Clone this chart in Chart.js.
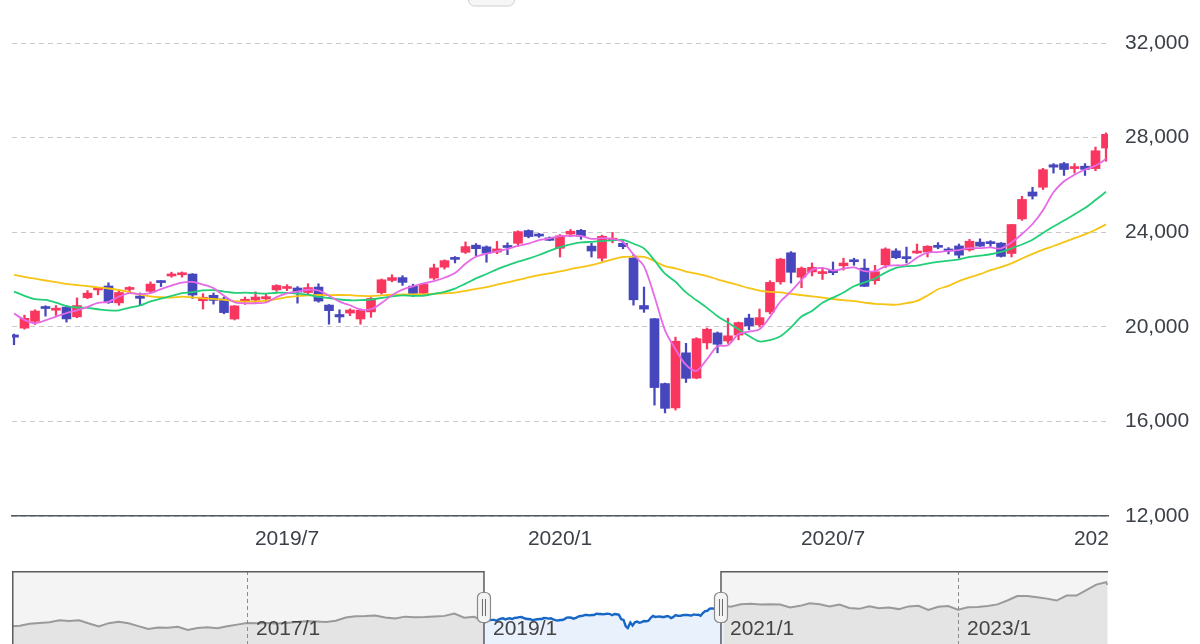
<!DOCTYPE html>
<html lang="ja">
<head>
<meta charset="utf-8">
<title>日経平均 週足</title>
<script src="https://cdn.jsdelivr.net/npm/chart.js@4.4.1/dist/chart.umd.min.js"></script>
<style>
  html, body { margin: 0; padding: 0; background: #fff; }
  #wrap { width: 1200px; height: 644px; position: relative; overflow: hidden; }
  #main { position: absolute; left: 0; top: 0; }
  #nav { position: absolute; left: 0; top: 560px; }
</style>
</head>
<body>
<div id="wrap">
  <canvas id="main" width="1200" height="560"></canvas>
  <canvas id="nav" width="1200" height="84"></canvas>
</div>
<script>
// weekly candles, 2019/1 - 2021/1
const weeks = [
  '2019/01/04','2019/01/11','2019/01/18','2019/01/25','2019/02/01','2019/02/08','2019/02/15','2019/02/22',
  '2019/03/01','2019/03/08','2019/03/15','2019/03/22','2019/03/29','2019/04/05','2019/04/12','2019/04/19',
  '2019/04/26','2019/05/10','2019/05/17','2019/05/24','2019/05/31','2019/06/07','2019/06/14','2019/06/21',
  '2019/06/28','2019/07/05','2019/07/12','2019/07/19','2019/07/26','2019/08/02','2019/08/09','2019/08/16',
  '2019/08/23','2019/08/30','2019/09/06','2019/09/13','2019/09/20','2019/09/27','2019/10/04','2019/10/11',
  '2019/10/18','2019/10/25','2019/11/01','2019/11/08','2019/11/15','2019/11/22','2019/11/29','2019/12/06',
  '2019/12/13','2019/12/20','2019/12/27','2019/12/30','2020/01/10','2020/01/17','2020/01/24','2020/01/31',
  '2020/02/07','2020/02/14','2020/02/21','2020/02/28','2020/03/06','2020/03/13','2020/03/19','2020/03/27',
  '2020/04/03','2020/04/10','2020/04/17','2020/04/24','2020/05/01','2020/05/08','2020/05/15','2020/05/22',
  '2020/05/29','2020/06/05','2020/06/12','2020/06/19','2020/06/26','2020/07/03','2020/07/10','2020/07/17',
  '2020/07/22','2020/07/31','2020/08/07','2020/08/14','2020/08/21','2020/08/28','2020/09/04','2020/09/11',
  '2020/09/18','2020/09/25','2020/10/02','2020/10/09','2020/10/16','2020/10/23','2020/10/30','2020/11/06',
  '2020/11/13','2020/11/20','2020/11/27','2020/12/04','2020/12/11','2020/12/18','2020/12/25','2020/12/30',
  '2021/01/08'
];
const open = [
  19655,19944,20230,20800,20700,20832,20420,21230,21560,21726,21010,21580,21300,21500,21900,22150,
  22200,22230,21100,21330,21180,20330,21080,21130,21180,21560,21620,21640,21450,21680,20920,20520,
  20580,20330,20630,21440,21960,22080,21720,21420,22060,22520,22880,23150,23450,23380,23160,23400,
  23530,24070,23900,23760,23320,23920,24080,23410,22900,23660,23530,22910,20900,20343,17600,16570,
  18900,17830,19320,19740,19400,19650,20370,20080,20630,21900,23130,22100,22320,22250,22400,22580,
  22790,22480,21950,22620,23210,22960,23120,23160,23420,23290,23420,23250,23580,23560,23540,23100,
  24560,25700,25900,26850,26900,26690,26790,26690,27560
];
const high = [
  19692,20494,20720,20890,20900,20900,21220,21530,21650,21860,21540,21700,21430,21900,21950,22310,
  22320,22250,21400,21430,21260,20900,21260,21480,21400,21780,21780,21700,21820,21820,20940,20720,
  20760,20760,21240,22020,22200,22160,21800,21830,22650,22830,22970,23590,23520,23420,23610,23550,
  24060,24100,23950,23800,23900,24115,24120,23540,23873,23995,23660,23050,21680,20350,17620,19564,
  19300,19540,19950,19780,20365,20200,20530,20750,21950,22900,23180,22530,22700,22500,22740,22900,
  22900,22860,22600,23340,23300,23370,23500,23430,23560,23350,23500,23700,23720,23640,23560,24330,
  25520,25900,26700,26900,26950,26900,26900,27600,28200
];
const low = [
  19241,19900,20100,20450,20480,20200,20380,21190,21350,20990,20910,21440,20910,21450,21700,22100,
  22100,21200,20750,20960,20550,20290,20950,21030,21070,21500,21530,21000,21400,21040,20110,20180,
  20470,20110,20400,21380,21900,21750,21280,21300,22000,22440,22700,23100,23000,22730,23090,23050,
  23400,23760,23780,23640,22950,23850,23700,22950,22780,23550,23300,20916,20610,16690,16358,16480,
  17646,17800,19060,18900,19300,19450,19870,19990,20550,21800,21850,21650,22150,22000,22200,22400,
  22600,21700,21800,22500,22880,22700,23100,22950,23300,23080,22900,23200,23400,23400,22950,22950,
  24500,25400,25800,26500,26400,26500,26400,26600,27000
];
const close = [
  19561,20359,20666,20773,20788,20333,20900,21425,21602,21025,21450,21627,21205,21807,21870,22200,
  22258,21344,21250,21117,20601,20884,21116,21258,21275,21746,21685,21467,21658,21087,20684,20418,
  20710,20704,21199,21988,22079,21878,21410,21798,22492,22799,22850,23391,23303,23112,23293,23354,
  24023,23816,23837,23656,23850,24041,23827,23205,23827,23688,23387,21142,20749,17431,16552,19389,
  17820,19498,19897,19262,19619,20179,20037,20388,21877,22863,22305,22478,22512,22306,22290,22696,
  22751,21710,22329,23289,22920,22882,23205,23406,23360,23204,23029,23619,23410,23516,22977,24325,
  25385,25527,26644,26751,26652,26763,26656,27444,28139
];
// moving averages (5 / 13 / 26 weeks)
const ma5 = [
  20559,20295,20153,20275,20429,20584,20692,20844,21010,21057,21280,21426,21382,21423,21592,21742,
  21868,21896,21784,21634,21314,21039,20994,20995,21027,21256,21416,21486,21566,21529,21316,21063,
  20911,20721,20743,21004,21336,21570,21711,21831,21931,22075,22270,22666,22967,23091,23190,23291,
  23417,23520,23665,23737,23836,23840,23842,23716,23750,23718,23587,23050,22559,21279,19852,19053,
  18388,18138,18631,19173,19219,19691,19799,19897,20420,21069,21494,21982,22407,22493,22378,22456,
  22511,22351,22355,22555,22600,22626,22925,23140,23155,23211,23241,23324,23324,23356,23310,23569,
  23923,24346,24932,25686,26152,26427,26653,26813,27091
];
const ma13 = [
  21490,21311,21167,21135,21024,20876,20816,20799,20742,20691,20697,20809,20901,21074,21190,21308,
  21422,21465,21536,21552,21489,21434,21441,21426,21399,21440,21431,21400,21358,21268,21218,21154,
  21122,21130,21154,21221,21285,21331,21305,21314,21393,21480,21616,21824,22046,22231,22430,22596,
  22752,22886,23037,23210,23367,23487,23566,23593,23626,23656,23677,23512,23311,22804,22246,21903,
  21454,21120,20801,20450,20174,19893,19612,19382,19438,19601,19976,20432,20672,21017,21232,21447,
  21715,21876,22042,22292,22487,22564,22590,22675,22743,22796,22852,22954,23009,23068,23165,23319,
  23480,23680,23970,24243,24492,24754,25020,25359,25707
];
const ma26 = [
  22197,22111,22033,21958,21891,21816,21763,21718,21669,21620,21556,21470,21358,21282,21250,21238,
  21279,21244,21206,21184,21144,21088,21066,21062,21104,21171,21252,21295,21333,21345,21341,21345,
  21337,21310,21294,21331,21355,21365,21373,21372,21396,21419,21442,21521,21600,21677,21780,21875,
  21987,22085,22184,22257,22341,22440,22523,22604,22725,22851,22954,22971,22954,22778,22566,22470,
  22332,22244,22144,22008,21883,21760,21634,21530,21475,21456,21390,21339,21288,21236,21176,21124,
  21083,21025,20968,20952,20934,21001,21096,21325,21587,21734,21934,22093,22228,22392,22521,22680,
  22886,23083,23267,23416,23584,23748,23908,24105,24330
];

const tickIdx = [26, 52, 78, 104];
const tickLabels = ['2019/7', '2020/1', '2020/7', '2021/1'];
const yTicks = [12000, 16000, 20000, 24000, 28000, 32000];

// navigator: month-end closes outside the weekly window
const navDates = [
  '2014/12',
  '2015/1','2015/2','2015/3','2015/4','2015/5','2015/6','2015/7','2015/8','2015/9','2015/10','2015/11','2015/12',
  '2016/1','2016/2','2016/3','2016/4','2016/5','2016/6','2016/7','2016/8','2016/9','2016/10','2016/11','2016/12',
  '2017/1','2017/2','2017/3','2017/4','2017/5','2017/6','2017/7','2017/8','2017/9','2017/10','2017/11','2017/12',
  '2018/1','2018/2','2018/3','2018/4','2018/5','2018/6','2018/7','2018/8','2018/9','2018/10','2018/11','2018/12',
  '2021/1','2021/2','2021/3','2021/4','2021/5','2021/6','2021/7','2021/8','2021/9','2021/10','2021/11','2021/12',
  '2022/1','2022/2','2022/3','2022/4','2022/5','2022/6','2022/7','2022/8','2022/9','2022/10','2022/11','2022/12',
  '2023/1','2023/2','2023/3','2023/4','2023/5','2023/6','2023/7','2023/8','2023/9','2023/10','2023/11','2023/12',
  '2024/1','2024/2','2024/3','2024/4/5'
];
const navClose = [
  17451,
  17674,18798,19207,19520,20563,20236,20585,18890,17388,19083,19747,19034,
  17518,16027,16759,16666,17235,15576,16569,16887,16450,17425,18308,19114,
  19041,19119,18909,19197,19651,20033,19925,19646,20356,22012,22725,22765,
  23098,22068,21454,22468,22202,22305,22554,22865,24120,21920,22351,20014,
  27663,28966,29179,28813,28860,28792,27284,28090,29453,28893,27822,28792,
  27002,26527,27821,26848,27280,26393,27802,28092,25937,27587,27969,26095,
  27327,27446,28041,28856,30888,33189,33172,32619,31858,30859,33487,33464,
  36287,39166,40369,38992
];
const navTicks = ['2017/1', '2019/1', '2021/1', '2023/1'];
const navWindow = ['2019/1', '2021/1'];

const FONT = "'Liberation Sans', Arial, sans-serif";
const UP = '#f8365f';
const DOWN = '#4646bd';
const TEXT = '#3c4049';

const idx = weeks.map((_, i) => i);
const colorOf = i => (close[i] >= open[i] ? UP : DOWN);
const pts = arr => arr.map((v, i) => ({ x: i, y: v }));

// date string -> decimal year
function toYear(s) {
  const p = s.split('/').map(Number);
  if (p.length === 2) return p[0] + p[1] / 12; // month end
  const t0 = Date.UTC(p[0], 0, 1), t1 = Date.UTC(p[0] + 1, 0, 1);
  return p[0] + (Date.UTC(p[0], p[1] - 1, p[2]) - t0) / (t1 - t0);
}
function monthStart(s) {
  const p = s.split('/').map(Number);
  return p[0] + (p[1] - 1) / 12;
}

const mainDecor = {
  id: 'mainDecor',
  afterDraw(chart) {
    const { ctx, chartArea } = chart;
    ctx.save();
    // labels are cut at the plot edge
    ctx.fillStyle = '#fff';
    ctx.fillRect(chartArea.right + 0.5, chartArea.bottom + 13, chart.width - chartArea.right, chart.height);
    // tab at the top
    ctx.beginPath();
    ctx.roundRect(468.5, -10, 46, 16, 6);
    ctx.fillStyle = '#f6f6f6';
    ctx.fill();
    ctx.strokeStyle = '#cfcfcf';
    ctx.lineWidth = 1;
    ctx.stroke();
    ctx.restore();
  }
};

new Chart(document.getElementById('main'), {
  type: 'bar',
  data: {
    datasets: [
      { type: 'line', label: '5週', data: pts(ma5), borderColor: '#e66ae6', borderWidth: 1.8,
        pointRadius: 0, tension: 0.3, order: 0, clip: 0 },
      { type: 'line', label: '13週', data: pts(ma13), borderColor: '#22cf78', borderWidth: 1.8,
        pointRadius: 0, tension: 0.3, order: 0, clip: 0 },
      { type: 'line', label: '26週', data: pts(ma26), borderColor: '#f6c414', borderWidth: 1.8,
        pointRadius: 0, tension: 0.3, order: 0, clip: 0 },
      { label: '実体', data: idx.map(i => ({ x: i, y: [open[i], close[i]] })),
        backgroundColor: idx.map(colorOf), barThickness: 9, minBarLength: 2,
        grouped: false, order: 1, clip: 0 },
      { label: 'ヒゲ', data: idx.map(i => ({ x: i, y: [low[i], high[i]] })),
        backgroundColor: idx.map(colorOf), barThickness: 1.6,
        grouped: false, order: 2, clip: 0 }
    ]
  },
  options: {
    responsive: false,
    animation: false,
    events: [],
    layout: { padding: { left: 12, right: 0, top: 43, bottom: 0 } },
    plugins: { legend: { display: false }, tooltip: { enabled: false } },
    scales: {
      x: {
        type: 'linear', min: -0.19, max: 104.19, offset: false,
        afterBuildTicks: s => { s.ticks = tickIdx.map(v => ({ value: v })); },
        afterFit: s => { s.height = 44; },
        grid: { display: false, drawTicks: false },
        border: { display: true, color: '#555a5f', width: 1.5 },
        ticks: {
          padding: 11, autoSkip: false, maxRotation: 0, color: TEXT,
          font: { family: FONT, size: 21 },
          callback: v => tickLabels[tickIdx.indexOf(v)]
        }
      },
      y: {
        position: 'right', min: 12000, max: 32000,
        afterBuildTicks: s => { s.ticks = yTicks.map(v => ({ value: v })); },
        afterFit: s => { s.width = 92; },
        grid: { color: '#c9c9c9', lineWidth: 1, drawTicks: false },
        border: { display: false, dash: [5, 4] },
        ticks: {
          padding: 17, color: TEXT, font: { family: FONT, size: 21 },
          callback: v => v.toLocaleString('en-US')
        }
      }
    }
  },
  plugins: [mainDecor]
});

// navigator
const winLo = monthStart(navWindow[0]);
const winHi = monthStart(navWindow[1]);
const navPts = navDates.map((d, i) => ({ x: toYear(d), y: navClose[i] }))
  .concat(weeks.map((d, i) => ({ x: toYear(d), y: close[i] })))
  .sort((a, b) => a.x - b.x);
const inWin = c => c.p0.parsed.x >= winLo - 1e-6 && c.p1.parsed.x <= winHi + 0.02;

const navDecor = {
  id: 'navDecor',
  beforeDatasetsDraw(chart) {
    const { ctx, chartArea: a, scales: { x } } = chart;
    const w0 = x.getPixelForValue(winLo), w1 = x.getPixelForValue(winHi);
    ctx.save();
    ctx.fillStyle = '#f4f4f4';
    ctx.fillRect(a.left, a.top, w0 - a.left, a.bottom - a.top);
    ctx.fillRect(w1, a.top, a.right - w1, a.bottom - a.top);
    ctx.restore();
  },
  afterDatasetsDraw(chart) {
    const { ctx, chartArea: a, scales: { x } } = chart;
    const w0 = x.getPixelForValue(winLo), w1 = x.getPixelForValue(winHi);
    ctx.save();
    // year separators
    ctx.strokeStyle = '#8c8c8c';
    ctx.lineWidth = 1;
    ctx.setLineDash([4, 3]);
    navTicks.forEach(t => {
      const v = monthStart(t);
      if (v === winLo || v === winHi) return;
      const px = Math.round(x.getPixelForValue(v)) + 0.5;
      ctx.beginPath(); ctx.moveTo(px, a.top); ctx.lineTo(px, a.bottom); ctx.stroke();
    });
    ctx.setLineDash([]);
    // frame of the unselected parts
    ctx.strokeStyle = '#5a5d60';
    ctx.lineWidth = 1.5;
    ctx.beginPath();
    ctx.moveTo(w0, a.bottom); ctx.lineTo(w0, a.top + 0.75); ctx.lineTo(a.left + 0.75, a.top + 0.75); ctx.lineTo(a.left + 0.75, a.bottom);
    ctx.moveTo(w1, a.bottom); ctx.lineTo(w1, a.top + 0.75); ctx.lineTo(a.right, a.top + 0.75);
    ctx.stroke();
    // labels
    ctx.fillStyle = '#444';
    ctx.font = '21px ' + FONT;
    ctx.textAlign = 'left';
    ctx.textBaseline = 'middle';
    navTicks.forEach(t => {
      ctx.fillText(t, x.getPixelForValue(monthStart(t)) + 9, a.top + 58);
    });
    // handles
    [w0, w1].forEach(px => {
      ctx.beginPath();
      ctx.roundRect(px - 6.5, a.top + 21.5, 13, 30, 5);
      ctx.fillStyle = '#f3f3f3';
      ctx.fill();
      ctx.strokeStyle = '#8a8a8a';
      ctx.lineWidth = 1.2;
      ctx.stroke();
      ctx.strokeStyle = '#6a6a6a';
      ctx.lineWidth = 1;
      ctx.beginPath();
      ctx.moveTo(px - 1.5, a.top + 28); ctx.lineTo(px - 1.5, a.top + 45);
      ctx.moveTo(px + 1.5, a.top + 28); ctx.lineTo(px + 1.5, a.top + 45);
      ctx.stroke();
    });
    ctx.restore();
  }
};

new Chart(document.getElementById('nav'), {
  type: 'line',
  data: {
    datasets: [{
      label: '日経平均', data: navPts, pointRadius: 0, tension: 0, borderWidth: 2,
      borderColor: '#9a9a9a', backgroundColor: '#e4e4e4', fill: 'start', clip: 0,
      segment: {
        borderColor: c => (inWin(c) ? '#1666c5' : '#9a9a9a'),
        backgroundColor: c => (inWin(c) ? '#e8f1fc' : '#e4e4e4'),
        borderWidth: c => (inWin(c) ? 2.4 : 2)
      }
    }]
  },
  options: {
    responsive: false,
    animation: false,
    events: [],
    layout: { padding: { left: 12, right: 92, top: 11, bottom: 0 } },
    plugins: { legend: { display: false }, tooltip: { enabled: false } },
    scales: {
      x: { type: 'linear', display: false, min: 2015.017, max: 2024.266 },
      y: { display: false, min: 8220, max: 46240 }
    }
  },
  plugins: [navDecor]
});
</script>
</body>
</html>
